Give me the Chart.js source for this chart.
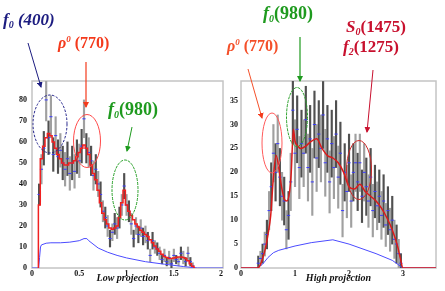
<!DOCTYPE html>
<html>
<head>
<meta charset="utf-8">
<script src="https://cdn.jsdelivr.net/npm/chart.js@4.4.1/dist/chart.umd.min.js"></script>
<style>
  html, body { margin: 0; padding: 0; background: #fff; }
  #wrap { position: relative; width: 445px; height: 291px; overflow: hidden; }
  #cLow { position: absolute; left: 0; top: 0; }
  #cHigh { position: absolute; left: 220px; top: 0; }
  #notes { position: absolute; left: 0; top: 0; }
</style>
</head>
<body>
<div id="wrap">
  <canvas id="cLow" width="228" height="291"></canvas>
  <canvas id="cHigh" width="225" height="291"></canvas>
  <svg id="notes" width="445" height="291" viewBox="0 0 445 291" font-family='"Liberation Serif", "Times New Roman", serif' font-weight="bold">
    <defs>
      <marker id="hNavy" viewBox="0 0 6 6" refX="5" refY="3" markerWidth="6" markerHeight="6" markerUnits="userSpaceOnUse" orient="auto"><path d="M0,0L6,3L0,6z" fill="#1c1c80"/></marker>
      <marker id="hOrange" viewBox="0 0 6 6" refX="5" refY="3" markerWidth="6" markerHeight="6" markerUnits="userSpaceOnUse" orient="auto"><path d="M0,0L6,3L0,6z" fill="#f43a1c"/></marker>
      <marker id="hGreen" viewBox="0 0 6 6" refX="5" refY="3" markerWidth="6" markerHeight="6" markerUnits="userSpaceOnUse" orient="auto"><path d="M0,0L6,3L0,6z" fill="#1e9a1e"/></marker>
      <marker id="hCrimson" viewBox="0 0 6 6" refX="5" refY="3" markerWidth="6" markerHeight="6" markerUnits="userSpaceOnUse" orient="auto"><path d="M0,0L6,3L0,6z" fill="#c8102e"/></marker>
    </defs>

    <!-- left panel notes -->
    <ellipse cx="50" cy="124" rx="17" ry="29" fill="none" stroke="#22228a" stroke-width="1" stroke-dasharray="2.5 1.5"/>
    <ellipse cx="87" cy="141" rx="13.5" ry="26.5" fill="none" stroke="#ff4a4a" stroke-width="1"/>
    <ellipse cx="125" cy="190" rx="13" ry="30" fill="none" stroke="#2aa02a" stroke-width="1" stroke-dasharray="3 1"/>
    <line x1="28" y1="43" x2="41" y2="87" stroke="#1c1c80" stroke-width="1" marker-end="url(#hNavy)"/>
    <line x1="86" y1="62" x2="86" y2="107" stroke="#f43a1c" stroke-width="1.2" marker-end="url(#hOrange)"/>
    <line x1="132" y1="127" x2="127" y2="151" stroke="#1e9a1e" stroke-width="1" marker-end="url(#hGreen)"/>
    <text x="3" y="25" fill="#1c1c80" font-style="italic" font-size="17">f<tspan font-size="10" dy="3">0</tspan><tspan dy="-3"> (400)</tspan></text>
    <text x="58" y="48" fill="#f43a1c" font-size="16"><tspan font-style="italic">ρ</tspan><tspan font-size="9" dy="-6" font-style="italic">0</tspan><tspan dy="6"> (770)</tspan></text>
    <text x="108" y="115" fill="#1e9a1e" font-size="18"><tspan font-style="italic">f</tspan><tspan font-size="10" dy="3" font-style="italic">0</tspan><tspan dy="-3">(980)</tspan></text>

    <!-- right panel notes -->
    <ellipse cx="272" cy="143" rx="10" ry="30" fill="none" stroke="#ff5a5a" stroke-width="1"/>
    <ellipse cx="297" cy="117" rx="10.5" ry="29.5" fill="none" stroke="#2aa02a" stroke-width="1" stroke-dasharray="3 1"/>
    <ellipse cx="359" cy="170" rx="12.5" ry="29.5" fill="none" stroke="#d02a2a" stroke-width="1"/>
    <line x1="248" y1="69" x2="262" y2="118" stroke="#f4502a" stroke-width="1" marker-end="url(#hOrange)"/>
    <line x1="300" y1="37" x2="300" y2="81" stroke="#1e9a1e" stroke-width="1.2" marker-end="url(#hGreen)"/>
    <line x1="373" y1="70" x2="367" y2="132" stroke="#c8102e" stroke-width="1" marker-end="url(#hCrimson)"/>
    <text x="263" y="19" fill="#1e9a1e" font-size="18"><tspan font-style="italic">f</tspan><tspan font-size="10" dy="3" font-style="italic">0</tspan><tspan dy="-3">(980)</tspan></text>
    <text x="227" y="51" fill="#f4502a" font-size="16"><tspan font-style="italic">ρ</tspan><tspan font-size="9" dy="-6" font-style="italic">0</tspan><tspan dy="6"> (770)</tspan></text>
    <text x="346" y="32" fill="#c8102e" font-size="17"><tspan font-style="italic">S</tspan><tspan font-size="10" dy="3" font-style="italic">0</tspan><tspan dy="-3">(1475)</tspan></text>
    <text x="343" y="52" fill="#c8102e" font-size="17"><tspan font-style="italic">f</tspan><tspan font-size="10" dy="3" font-style="italic">2</tspan><tspan dy="-3">(1275)</tspan></text>
  </svg>
</div>
<script>
/* ---- low projection ---- */
const lowX = [0.075,0.1,0.125,0.15,0.175,0.2,0.225,0.25,0.275,0.3,0.325,0.35,0.375,0.4,0.425,0.45,0.475,0.5,0.525,0.55,
  0.575,0.6,0.625,0.65,0.675,0.7,0.725,0.75,0.775,0.8,0.825,0.85,0.875,0.9,0.925,0.95,0.975,1,1.025,1.05,
  1.075,1.1,1.125,1.15,1.175,1.2,1.225,1.25,1.275,1.3,1.325,1.35,1.375,1.4,1.425,1.45,1.475,1.5,1.525,1.55,
  1.575,1.6,1.625,1.65,1.675,1.7];
const lowY = [35,47,57,80,62,72,54,63,53,56, 50,47,52,45,50,46,53,51,58,71,
  57,55,51,44,47,40,35,27,24,20, 14,17,21,19,24,30,39,30,27,21,
  14,20,16,19,15,16,13,6,13,10, 9,7,4,6,3,5,2,6,4,3, 7,5,3,7,3,1];
const lowErr = [5,7,8,10,8,10,8,9,8,8, 8,8,8,8,8,8,8,8,8,9,
  7,7,7,7,7,6,6,5,5,5, 4,4,5,5,5,5,6,5,5,5,
  4,4,4,4,4,4,4,3,4,3, 3,3,2,3,2,3,2,3,2,2, 3,3,2,3,2,1.5];
const lowFitX = [0.06, ...lowX, 1.725];
const lowFitY = [0, 30,52,58,62,64,63,60,57,54,52, 50,49,49,50,50,51,53,55,57,58.5,
  57,54,49,45,42,37,31,26,23,21, 19,18.5,19,20,24,31,37,30,27,25,
  23,21,19.5,18,17,16,15,13.5,12,10.5, 9,8,6.5,5.5,5,4.5,4.5,4.8,5,5.2, 5.2,5,4.5,3.5,2,0.8, 0];
const lowBgX = [0,0.07,0.08,0.09,0.1,0.15,0.2,0.3,0.4,0.5,0.55,0.58,0.6,0.7,0.8,0.9,1.0,1.2,1.4,1.6,1.75,2.02];
const lowBgY = [0,0,5,10,11,11.8,12,12,12.3,13,14,14,13,9.5,7.5,6,4.8,3,1.8,0.7,0,0];
const lowXTicks = [0, 0.5, 1, 1.5, 2];
const lowYTicks = [0, 10, 20, 30, 40, 50, 60, 70, 80];

/* ---- high projection ---- */
const highX = [0.32,0.36,0.4,0.44,0.48,0.52,0.56,0.6,0.64,0.68,0.72,0.76,0.8,0.84,0.88,0.92,0.96,1,1.04,1.08,
  1.12,1.16,1.2,1.24,1.28,1.32,1.36,1.4,1.44,1.48,1.52,1.56,1.6,1.64,1.68,1.72,1.76,1.8,1.84,1.88,
  1.92,1.96,2,2.04,2.08,2.12,2.16,2.2,2.24,2.28,2.32,2.36,2.4,2.44,2.48,2.52,2.56,2.6,2.64,2.68,
  2.72,2.76,2.8,2.84,2.88,2.92,2.96];
const highY = [1,2,3,5,7,12,17,24,20,26, 19,15,14,8,11,18,33,24,29,21,
  26,24,31,21,27,18,30,23,28,25, 32,22,27,18,26,21,28,19,24,12,
  20,16,22,14,20,22,18,22,15,20, 17,14,19,12,16,13,15,11,14,9, 12,8,10,6,5,3,1];
const highErr = [1.5,1.5,2,2.5,3,4,5,6,6,6, 6,5,5,4,5,6,7,7,7,6.5,
  7,7,7,7,7,7,7,7,7,7, 7,7,7,6.5,7,6.5,7,6.5,6.5,5.5,
  6,5.5,6,5.5,6,6,6,6,5.5,6, 6,5.5,6,5.5,5.5,5,5.5,5,5.5,4.5, 5,4.5,5,4,4,3,2];
const highFitX = [0,0.3,0.35,0.4,0.45,0.5,0.55,0.6,0.65,0.7,0.75,0.8,0.85,0.9,0.93,0.97,1.0,1.05,1.1,1.2,
  1.3,1.4,1.5,1.6,1.7,1.8,1.9,2.0,2.1,2.2,2.3,2.4,2.5,2.6,2.7,2.8,2.9,2.95,3.0,3.61];
const highFitY = [0,0,0.5,2,4,7,11,19,23.5,21,17,14.5,14,16,20,29,26.5,25.5,25,25.5,
  26.5,27,25,23.5,23,22,20,17,16.5,17.5,16,15,14,12.5,10.5,8,4.5,2,0,0];
const highBgX = [0,0.3,0.4,0.5,0.6,0.7,1.0,1.3,1.7,2.0,2.5,2.8,3.0,3.61];
const highBgY = [0,0,0.8,2.2,3.2,3.7,4.6,5.3,5.9,5.0,3.0,1.6,0,0];
const highXTicks = [0, 1, 2, 3];
const highYTicks = [0, 5, 10, 15, 20, 25, 30, 35];

/* ---- shared look ---- */
const serif = '"Liberation Serif", "Times New Roman", serif';
const tickFont = { family: serif, size: 8, weight: 'bold' };
const barGrays = ['#505050', '#a0a0a0'];

const pts = (xs, ys) => xs.map((x, i) => ({ x, y: ys[i] }));
const errBars = (xs, ys, es) => xs.map((x, i) => ({ x, y: [ys[i] - es[i], ys[i] + es[i]] }));

// light grey box round the plot area
const framePlugin = {
  id: 'frame',
  beforeDatasetsDraw(chart) {
    const { ctx, chartArea: a } = chart;
    ctx.save();
    ctx.strokeStyle = '#c4c4c4';
    ctx.lineWidth = 1.5;
    ctx.strokeRect(a.left, a.top, a.right - a.left, a.bottom - a.top);
    ctx.restore();
  }
};

function buildPanel(id, p) {
  return new Chart(document.getElementById(id), {
    type: 'line',
    data: {
      datasets: [
        { data: pts(p.fitX, p.fitY), borderColor: p.fitColor, borderWidth: 1.5, pointRadius: 0,
          stepped: p.stepped, cubicInterpolationMode: p.stepped ? 'default' : 'monotone', order: 0 },
        { data: pts(p.bgX, p.bgY), borderColor: '#4b4bff', borderWidth: 1, pointRadius: 0, order: 1 },
        { data: pts(p.x, p.y), showLine: false, pointStyle: 'line', pointRadius: 1.6,
          borderColor: '#3a3aff', borderWidth: 1, order: 2 },
        { type: 'bar', data: errBars(p.x, p.y, p.err), backgroundColor: c => barGrays[c.dataIndex % 2],
          borderWidth: 0, barThickness: 1.5, order: 3 }
      ]
    },
    options: {
      responsive: false,
      animation: false,
      layout: { padding: { top: 81, right: p.padRight, left: 0, bottom: 0 } },
      plugins: { legend: { display: false }, tooltip: { enabled: false } },
      scales: {
        x: {
          type: 'linear', min: 0, max: p.xMax, offset: false,
          grid: { display: false, drawTicks: false }, border: { display: false },
          ticks: { font: tickFont, color: '#111', padding: 1, maxRotation: 0, autoSkip: false, callback: v => String(v) },
          afterBuildTicks: s => { s.ticks = p.xTicks.map(v => ({ value: v })); },
          afterFit: s => { s.height = 23; },
          title: { display: true, text: p.title, color: '#111',
            font: { family: serif, size: 10, weight: 'bold', style: 'italic' }, padding: { top: 0, bottom: 7 } }
        },
        y: {
          type: 'linear', min: 0, max: p.yMax,
          grid: { display: false, drawTicks: false }, border: { display: false },
          ticks: { font: tickFont, color: '#111', padding: p.yPad, autoSkip: false, callback: v => String(v) },
          afterBuildTicks: s => { s.ticks = p.yTicks.map(v => ({ value: v })); },
          afterFit: s => { s.width = p.yWidth; }
        }
      }
    },
    plugins: [framePlugin]
  });
}

buildPanel('cLow', {
  x: lowX, y: lowY, err: lowErr, fitX: lowFitX, fitY: lowFitY, bgX: lowBgX, bgY: lowBgY,
  xTicks: lowXTicks, yTicks: lowYTicks, xMax: 2.02, yMax: 89, fitColor: '#f02020', stepped: 'middle',
  title: 'Low projection', padRight: 2, yWidth: 32, yPad: 5
});
buildPanel('cHigh', {
  x: highX, y: highY, err: highErr, fitX: highFitX, fitY: highFitY, bgX: highBgX, bgY: highBgY,
  xTicks: highXTicks, yTicks: highYTicks, xMax: 3.61, yMax: 39.1, fitColor: '#dc1a1a', stepped: false,
  title: 'High projection', padRight: 9, yWidth: 21, yPad: 3
});
</script>
</body>
</html>
